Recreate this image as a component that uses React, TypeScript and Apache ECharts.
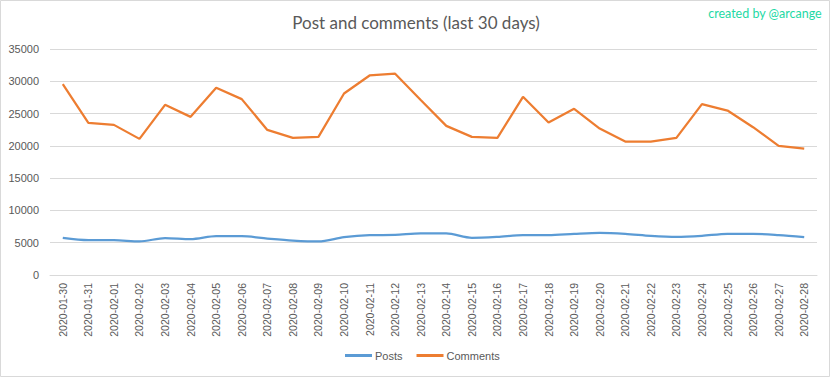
import React, { useEffect, useRef } from "react";
import * as echarts from "echarts";

const dates = [
  "2020-01-30", "2020-01-31", "2020-02-01", "2020-02-02", "2020-02-03", "2020-02-04",
  "2020-02-05", "2020-02-06", "2020-02-07", "2020-02-08", "2020-02-09", "2020-02-10",
  "2020-02-11", "2020-02-12", "2020-02-13", "2020-02-14", "2020-02-15", "2020-02-16",
  "2020-02-17", "2020-02-18", "2020-02-19", "2020-02-20", "2020-02-21", "2020-02-22",
  "2020-02-23", "2020-02-24", "2020-02-25", "2020-02-26", "2020-02-27", "2020-02-28",
];

const posts = [
  5750, 5400, 5400, 5200, 5720, 5550, 6010, 6010, 5650, 5340,
  5190, 5850, 6170, 6210, 6430, 6430, 5750, 5900, 6170, 6170,
  6370, 6520, 6370, 6060, 5900, 6060, 6370, 6370, 6170, 5850,
];

const comments = [
  29550, 23550, 23250, 21080, 26350, 24490, 28990, 27240, 22470, 21230,
  21390, 28110, 30900, 31170, 27100, 23090, 21390, 21230, 27600, 23610,
  25730, 22680, 20660, 20660, 21230, 26460, 25470, 22890, 19990, 19570,
];

const yTicks = { min: 0, max: 35000, interval: 5000 };

const TEXT = "#595959";
const GRID = "#d9d9d9";

export default function App() {
  const ref = useRef<HTMLDivElement>(null);
  useEffect(() => {
    if (!ref.current) return;
    const chart = echarts.init(ref.current, undefined, { renderer: "svg" });
    chart.setOption({
      animation: false,
      backgroundColor: "#ffffff",
      title: {
        text: "Post and comments (last 30 days)",
        left: "center",
        top: 9,
        textStyle: { color: TEXT, fontFamily: "Lato", fontSize: 17, fontWeight: "normal" },
      },
      graphic: [
        {
          type: "rect",
          shape: { x: 0.5, y: 0.5, width: 829, height: 376 },
          style: { fill: "none", stroke: GRID, lineWidth: 1 },
          silent: true,
        },
        {
          type: "text",
          right: 10,
          top: 7,
          style: { text: "created by @arcange", fill: "#1ed9a4", font: "12.5px Lato" },
        },
      ],
      legend: {
        bottom: 12,
        left: 340,
        itemWidth: 27,
        itemHeight: 3,
        itemGap: 14,
        icon: "rect",
        textStyle: { color: TEXT, fontFamily: "Liberation Sans", fontSize: 11, padding: [0, 0, 0, -2] },
        data: ["Posts", "Comments"],
      },
      grid: { left: 50, right: 15, top: 49, bottom: 103, containLabel: false },
      xAxis: {
        type: "category",
        data: dates,
        boundaryGap: true,
        axisLine: { lineStyle: { color: GRID, width: 1 } },
        axisTick: { show: false },
        axisLabel: {
          rotate: 90,
          interval: 0,
          margin: 8,
          color: TEXT,
          fontFamily: "Liberation Sans",
          fontSize: 10.5,
        },
      },
      yAxis: {
        type: "value",
        min: yTicks.min,
        max: yTicks.max,
        interval: yTicks.interval,
        axisLine: { show: false },
        axisTick: { show: false },
        splitLine: { lineStyle: { color: GRID, width: 1 } },
        axisLabel: {
          color: TEXT,
          fontFamily: "Liberation Sans",
          fontSize: 11,
          margin: 11,
          formatter: (v: number) => String(v),
        },
      },
      series: [
        {
          name: "Posts",
          type: "line",
          data: posts,
          smooth: 0.3,
          showSymbol: false,
          symbol: "none",
          itemStyle: { color: "#5b9bd5" },
          lineStyle: { color: "#5b9bd5", width: 2.25 },
        },
        {
          name: "Comments",
          type: "line",
          data: comments,
          showSymbol: false,
          symbol: "none",
          itemStyle: { color: "#ed7d31" },
          lineStyle: { color: "#ed7d31", width: 2.25 },
        },
      ],
    });
    return () => chart.dispose();
  }, []);
  return (
    <div
      ref={ref}
      style={{ position: "fixed", left: 0, top: 0, width: 832, height: 378 }}
    />
  );
}
